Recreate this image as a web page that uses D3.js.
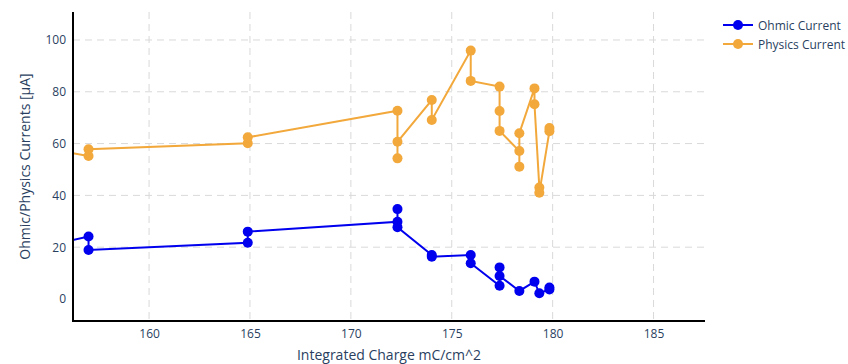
<!DOCTYPE html>
<html>
<head>
<meta charset="utf-8">
<script src="https://cdn.jsdelivr.net/npm/d3@7"></script>
<style>
  html, body { margin: 0; padding: 0; background: #fff; }
  svg { display: block; font-family: "Open Sans", "DejaVu Sans", sans-serif; }
</style>
</head>
<body>
<svg id="chart" width="848" height="364"></svg>
<script>
// Integrated charge (mC/cm^2) and measured currents (µA) per series
const ohmicCharge = [152.0, 157.0, 157.0, 164.89, 164.89, 172.31, 172.31, 172.31, 174.01, 174.01,
                     175.94, 175.94, 177.37, 177.37, 177.37, 178.35, 179.10, 179.34, 179.84, 179.84];
const ohmicCurrent = [15.7, 24.1, 18.9, 21.7, 26.0, 29.8, 34.7, 27.7, 17.0, 16.3,
                      17.0, 13.8, 5.1, 12.2, 8.9, 3.1, 6.7, 2.2, 3.7, 4.4];

const physicsCharge = [152.0, 157.0, 157.0, 164.89, 164.89, 172.31, 172.31, 172.31, 174.01, 174.01,
                       175.94, 175.94, 177.37, 177.37, 177.37, 178.35, 178.35, 178.35, 179.10, 179.10,
                       179.34, 179.34, 179.84, 179.84];
const physicsCurrent = [62.3, 55.2, 57.8, 60.1, 62.4, 72.7, 54.3, 60.7, 76.8, 69.1,
                        95.9, 84.2, 82.0, 72.6, 64.9, 57.1, 51.1, 64.0, 81.3, 75.2,
                        43.0, 41.0, 64.8, 66.0];

const xTicks = [160, 165, 170, 175, 180, 185];
const yTicks = [0, 20, 40, 60, 80, 100];
const seriesNames = ["Ohmic Current", "Physics Current"];
const seriesColors = ["#0000ee", "#f2a83b"];

const svg = d3.select("#chart");
const plot = { left: 73, right: 705, top: 12, bottom: 321 };

const x = d3.scaleLinear().domain([156.23, 187.55]).range([plot.left, plot.right]);
const y = d3.scaleLinear().domain([-8.5, 110.8]).range([plot.bottom, plot.top]);

const textColor = "#2a3f5f";

svg.append("defs").append("clipPath").attr("id", "plot-clip")
  .append("rect")
  .attr("x", plot.left).attr("y", plot.top)
  .attr("width", plot.right - plot.left).attr("height", plot.bottom - plot.top);

// dashed grid
const grid = svg.append("g").attr("stroke", "#d9d9d9").attr("stroke-width", 1)
  .attr("stroke-dasharray", "7,5");
grid.selectAll(".vx").data(xTicks).join("line")
  .attr("x1", d => x(d)).attr("x2", d => x(d))
  .attr("y1", plot.top).attr("y2", plot.bottom);
grid.selectAll(".hy").data(yTicks.filter(d => d !== 0)).join("line")
  .attr("x1", plot.left).attr("x2", plot.right)
  .attr("y1", d => y(d)).attr("y2", d => y(d));

// axes
const xAxis = svg.append("g").attr("transform", `translate(0,${plot.bottom})`)
  .call(d3.axisBottom(x).tickValues(xTicks).tickSize(0).tickPadding(8));
const yAxis = svg.append("g").attr("transform", `translate(${plot.left},0)`)
  .call(d3.axisLeft(y).tickValues(yTicks).tickSize(0).tickPadding(7));
[xAxis, yAxis].forEach(g => {
  g.select(".domain").remove();
  g.selectAll("text").attr("fill", textColor).style("font-size", "12px")
    .style("font-family", "'Open Sans', sans-serif");
});

// series
const series = [
  { name: seriesNames[0], color: seriesColors[0], xs: ohmicCharge, ys: ohmicCurrent },
  { name: seriesNames[1], color: seriesColors[1], xs: physicsCharge, ys: physicsCurrent }
];
const line = d3.line().x(d => x(d[0])).y(d => y(d[1]));
const marks = svg.append("g").attr("clip-path", "url(#plot-clip)");
series.forEach(s => {
  const pts = s.xs.map((v, i) => [v, s.ys[i]]);
  marks.append("path").datum(pts).attr("d", line)
    .attr("fill", "none").attr("stroke", s.color).attr("stroke-width", 2);
  marks.append("g").selectAll("circle").data(pts).join("circle")
    .attr("cx", d => x(d[0])).attr("cy", d => y(d[1])).attr("r", 5)
    .attr("fill", s.color);
});

// axis lines
svg.append("line").attr("x1", plot.left).attr("x2", plot.left)
  .attr("y1", plot.top).attr("y2", plot.bottom + 1)
  .attr("stroke", "#000").attr("stroke-width", 2);
svg.append("line").attr("x1", plot.left - 1).attr("x2", plot.right)
  .attr("y1", plot.bottom).attr("y2", plot.bottom)
  .attr("stroke", "#000").attr("stroke-width", 2);

// axis titles
svg.append("text").attr("x", (plot.left + plot.right) / 2).attr("y", 360)
  .attr("text-anchor", "middle").attr("fill", textColor).style("font-size", "14px")
  .text("Integrated Charge mC/cm^2");
svg.append("text")
  .attr("transform", `translate(24,${(plot.top + plot.bottom) / 2}) rotate(-90)`)
  .attr("text-anchor", "middle").attr("dominant-baseline", "central")
  .attr("fill", textColor).style("font-size", "14px")
  .text("Ohmic/Physics Currents [μA]");

// legend
const legend = svg.append("g").attr("transform", "translate(723,25)");
series.forEach((s, i) => {
  const row = legend.append("g").attr("transform", `translate(0,${i * 19})`);
  row.append("line").attr("x1", 0).attr("x2", 30).attr("y1", 0).attr("y2", 0)
    .attr("stroke", s.color).attr("stroke-width", 2);
  row.append("circle").attr("cx", 15).attr("cy", 0).attr("r", 5).attr("fill", s.color);
  row.append("text").attr("x", 35).attr("y", 0).attr("dominant-baseline", "central")
    .attr("fill", textColor).style("font-size", "12px").text(s.name);
});
</script>
</body>
</html>
